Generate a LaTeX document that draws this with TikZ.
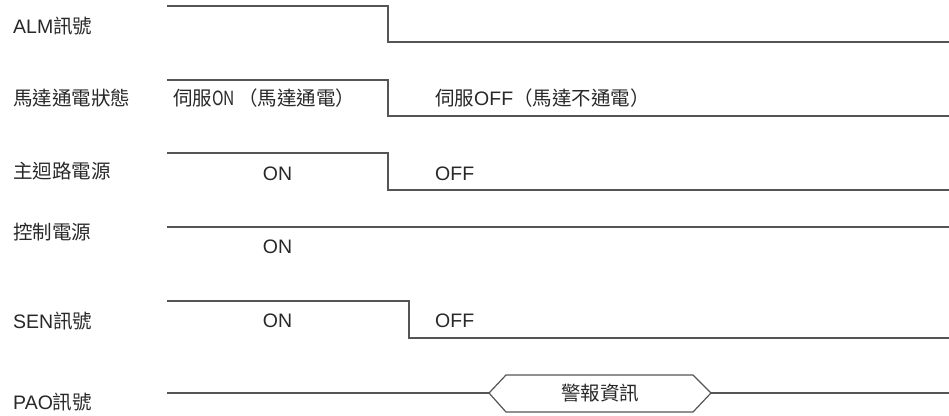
\documentclass[tikz,border=0pt]{standalone}
\usepackage{fontspec}
\usepackage{graphicx}
\setmainfont{Liberation Sans}
\newfontfamily\cjk{Noto Sans CJK TC}
\definecolor{txt}{RGB}{40,40,40}
\definecolor{wire}{RGB}{85,85,85}
\newcommand{\narrowON}{\scalebox{0.8}[1]{ON}\hspace{3pt}}
\begin{document}
\begin{tikzpicture}[x=1pt,y=-1pt,
  lbl/.style={anchor=west,inner sep=0pt,text=txt,font=\fontsize{19.5}{22}\selectfont},
  val/.style={inner sep=0pt,text=txt,font=\fontsize{19.5}{22}\selectfont},
  wave/.style={draw=wire,line width=1.2pt,line join=miter}]
\useasboundingbox (0,0) rectangle (949,415);
% labels
\node[lbl] (lalm) at (13,26) {ALM{\cjk 訊號}};
\node[lbl] (lmot) at (13,98) {\cjk 馬達通電狀態};
\node[lbl] (lmain) at (13,171) {\cjk 主迴路電源};
\node[lbl] (lctl) at (13,232) {\cjk 控制電源};
\node[lbl] (lsen) at (13,321) {SEN{\cjk 訊號}};
\node[lbl] (lpao) at (13,402) {PAO{\cjk 訊號}};
% ALM
\coordinate (a1) at (167,6); \coordinate (a2) at (388,6);
\coordinate (a3) at (388,42); \coordinate (a4) at (949,42);
\draw[wave] (a1) -- (a2) -- (a3) -- (a4);
% motor
\coordinate (m1) at (167,80); \coordinate (m2) at (388,80);
\coordinate (m3) at (388,116); \coordinate (m4) at (949,116);
\draw[wave] (m1) -- (m2) -- (m3) -- (m4);
\node[val,anchor=west] (mon) at (173,98) {\cjk 伺服\narrowON（馬達通電）};
\node[val,anchor=west] (moff) at (435,98) {{\cjk 伺服}OFF{\cjk （馬達不通電）}};
% main power
\coordinate (p1) at (167,153); \coordinate (p2) at (388,153);
\coordinate (p3) at (388,190); \coordinate (p4) at (949,190);
\draw[wave] (p1) -- (p2) -- (p3) -- (p4);
\node[val] (pon) at (277.5,173.5) {ON};
\node[val,anchor=west] (poff) at (435,174) {OFF};
% control power
\coordinate (c1) at (167,227); \coordinate (c2) at (949,227);
\draw[wave] (c1) -- (c2);
\node[val] (con) at (277.5,247) {ON};
% SEN
\coordinate (s1) at (167,301); \coordinate (s2) at (409,301);
\coordinate (s3) at (409,338); \coordinate (s4) at (949,338);
\draw[wave] (s1) -- (s2) -- (s3) -- (s4);
\node[val] (son) at (277.5,320.5) {ON};
\node[val,anchor=west] (soff) at (435,320.5) {OFF};
% PAO
\coordinate (q1) at (167,393); \coordinate (hl) at (489,393);
\coordinate (htl) at (506,375); \coordinate (htr) at (693,375);
\coordinate (hr) at (711,393); \coordinate (hbr) at (693,412);
\coordinate (hbl) at (506,412); \coordinate (q2) at (949,393);
\draw[wave] (q1) -- (hl);
\draw[wave] (hl) -- (htl) -- (htr) -- (hr) -- (hbr) -- (hbl) -- cycle;
\draw[wave] (hr) -- (q2);
\node[val] (alarm) at (600,393.5) {\cjk 警報資訊};
\end{tikzpicture}
\end{document}
